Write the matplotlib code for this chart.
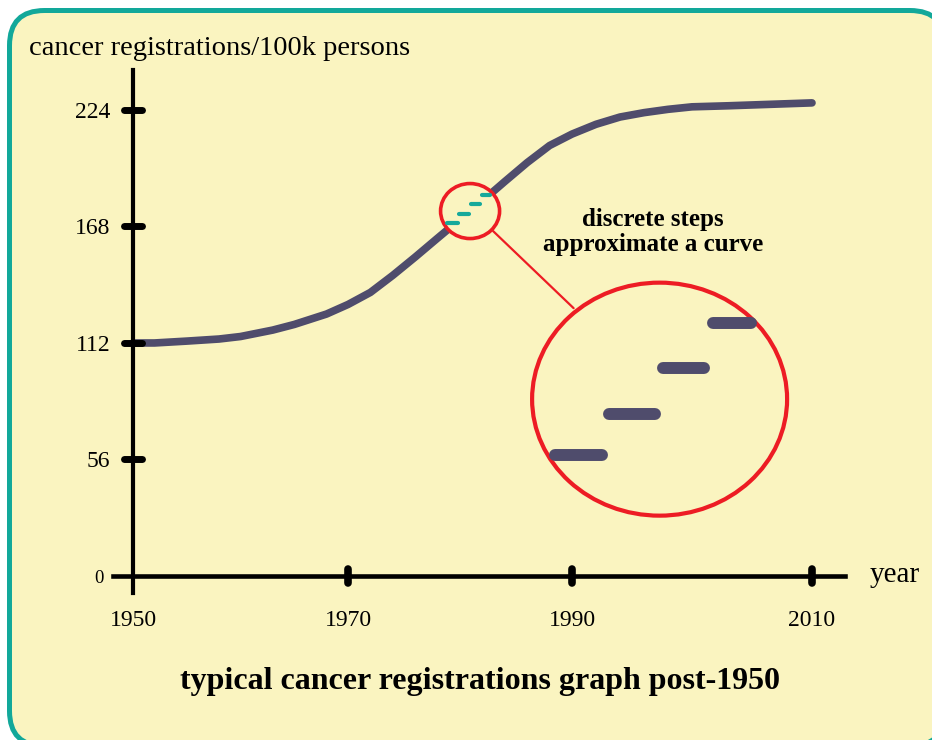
import matplotlib
matplotlib.use('Agg')
import matplotlib.pyplot as plt
import numpy as np
from matplotlib.patches import Ellipse, FancyBboxPatch, ConnectionPatch
from matplotlib.collections import LineCollection
from matplotlib.markers import MarkerStyle
from matplotlib.transforms import Affine2D, ScaledTranslation

# данные кривой
years = [1950, 1952, 1955, 1958, 1960, 1963, 1965, 1968, 1970, 1972, 1974, 1976,
         1978, 1980, 1982, 1984, 1986, 1988, 1990, 1992, 1994, 1996, 1998, 2000,
         2003, 2006, 2010]
registrations = [112, 112, 112.9, 113.9, 115.1, 118.2, 120.9, 125.9, 130.5, 136.3, 144.5, 153.3,
                 162.4, 171.4, 180.3, 189.6, 198.7, 206.9, 212.4, 217.1, 220.6, 222.7, 224.3, 225.5,
                 226.0, 226.6, 227.4]

y_ticks = [56, 112, 168, 224]
x_ticks = [1970, 1990, 2010]
x_label_years = [1950, 1970, 1990, 2010]

# ось нарисована от руки: годы стоят не через равные промежутки
axis_years = [1900, 1950, 1970, 1990, 2010, 2060]
axis_pos = [-537.5, 0, 215, 439, 679, 1279]

# ступеньки в "увеличенном" виде (условные единицы лупы)
step_start = [-1.98, -0.95, 0.07, 1.00]
step_end = [-1.09, -0.09, 0.83, 1.72]
step_level = [-1.06, -0.28, 0.58, 1.43]

zoom_year = 1980.9          # где стоит маленькая лупа
inset_center = (1997.3, 85)  # центр большой лупы

bg = '#faf4c0'
dark = '#4f4c6c'
teal = '#16a99b'
red = '#ed1c24'

plt.rcParams['font.family'] = ['Liberation Serif', 'DejaVu Serif']

fig = plt.figure(figsize=(9.32, 7.4), dpi=100, facecolor='white')

# рамка с закруглёнными углами
frame = FancyBboxPatch((0.095, -0.06), 9.355, 7.355,
                       boxstyle='round,pad=0,rounding_size=0.35',
                       transform=fig.dpi_scale_trans, facecolor=bg,
                       edgecolor='#12a89a', linewidth=3.6, zorder=-1)
fig.patches.append(frame)

ax = fig.add_axes([113 / 932, (740 - 593) / 740, 732 / 932, 523 / 740])
ax.patch.set_visible(False)
ax.set_xscale('function', functions=(lambda x: np.interp(x, axis_years, axis_pos),
                                     lambda p: np.interp(p, axis_pos, axis_years)))
ax.set_xlim(1948.14, 2012.75)
ax.set_ylim(-8.17, 243.2)

for s in ['top', 'right']:
    ax.spines[s].set_visible(False)
ax.spines['left'].set_position(('data', 1950))
ax.spines['bottom'].set_position(('data', 0))
ax.spines['left'].set_linewidth(3)
ax.spines['bottom'].set_linewidth(3.3)

ax.plot(years, registrations, color=dark, lw=5.5, solid_capstyle='round', zorder=2)

# толстые закруглённые засечки
ax.plot(np.full(len(y_ticks), 1950), y_ticks, ls='none',
        marker=MarkerStyle('_', capstyle='round'), ms=13, mew=5, color='black',
        clip_on=False, zorder=3)
ax.plot(x_ticks, np.zeros(len(x_ticks)), ls='none',
        marker=MarkerStyle('|', capstyle='round'), ms=9.5, mew=5.5, color='black',
        clip_on=False, zorder=3)

ax.set_xticks(x_label_years, labels=[str(y) for y in x_label_years])
ax.set_yticks([0] + y_ticks, labels=[str(v) for v in [0] + y_ticks])
ax.xaxis.set_minor_locator(plt.NullLocator())
ax.tick_params(axis='x', length=0, pad=24.5, labelsize=17)
ax.tick_params(axis='y', length=0, pad=16.5, labelsize=17)
t0 = ax.yaxis.get_major_ticks()[0]
t0.label1.set_fontsize(13.5)
t0.set_pad(21.5)

# маленькая лупа на кривой
zoom_value = np.interp(zoom_year, years, registrations)
small_tr = fig.dpi_scale_trans + ScaledTranslation(zoom_year, zoom_value, ax.transData)
ax.add_patch(Ellipse((0, 0), 0.59, 0.55, transform=small_tr, facecolor=bg,
                     edgecolor=red, lw=2.6, zorder=3, clip_on=False))
small_steps = LineCollection([[(a, y), (b, y)] for a, b, y in zip(step_start, step_end, step_level)],
                             transform=Affine2D().scale(0.115) + small_tr,
                             colors=teal, linewidths=3, capstyle='round', zorder=4)
ax.add_collection(small_steps, autolim=False)

# большая лупа
big_tr = fig.dpi_scale_trans + ScaledTranslation(inset_center[0], inset_center[1], ax.transData)
ax.add_patch(Ellipse((0, 0), 2.55, 2.33, transform=big_tr, facecolor=bg,
                     edgecolor=red, lw=3, zorder=3, clip_on=False))
big_steps = LineCollection([[(a, y), (b, y)] for a, b, y in zip(step_start, step_end, step_level)],
                           transform=Affine2D().scale(0.53) + big_tr,
                           colors=dark, linewidths=8.6, capstyle='round', zorder=4)
ax.add_collection(big_steps, autolim=False)

con = ConnectionPatch(xyA=(0.23, -0.20), coordsA=small_tr, xyB=(-0.86, 0.91), coordsB=big_tr,
                      color=red, lw=1.6, zorder=2.5)
ax.add_artist(con)

ax.annotate('year', xy=(1, 0), xycoords=ax.get_yaxis_transform(), xytext=(18, 1),
            textcoords='offset points', ha='left', va='center', fontsize=21)

fig.text(29 / 932, 1 - 55 / 740, 'cancer registrations/100k persons', fontsize=20.5,
         ha='left', va='baseline')
fig.text(653 / 932, 1 - 232 / 740, 'discrete steps\napproximate a curve', fontsize=18,
         fontweight='bold', ha='center', va='center', linespacing=1.1)
fig.text(480 / 932, 1 - 682 / 740, 'typical cancer registrations graph post-1950',
         fontsize=23, fontweight='bold', ha='center', va='center')

fig.savefig('out.png', dpi=100, facecolor='white')
